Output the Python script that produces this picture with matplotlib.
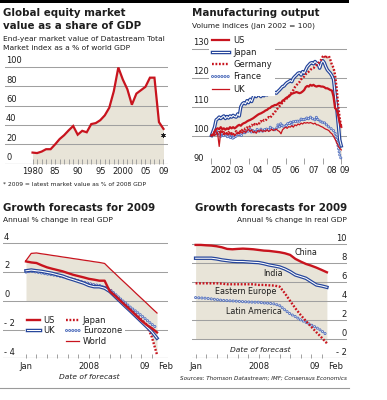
import numpy as np
import pandas as pd
import matplotlib
matplotlib.use('Agg')
import matplotlib.pyplot as plt
import matplotlib.patheffects as pe
from matplotlib.lines import Line2D
from matplotlib.patches import Rectangle
from matplotlib.transforms import blended_transform_factory as btf

plt.rcParams['font.family'] = ['Liberation Sans Narrow', 'DejaVu Sans']
plt.rcParams['lines.scale_dashes'] = False

# ---------------- data ----------------
# Panel 1: global equity market value as % of world GDP
eq_years = list(range(1980, 2010))
eq_values = [11.5, 11, 12.5, 15, 15, 20, 25.5, 29.5, 34.5, 39,
             30, 34, 32.5, 41, 42, 45, 50, 58, 75, 99.5,
             87, 77, 61, 72.5, 76, 79.5, 89, 89, 43, 36]
eq_star_year = 2009
eq_star_value = 29.5
eq_yticks = [0, 20, 40, 60, 80, 100]
eq_xticks = [1980, 1985, 1990, 1995, 2000, 2005, 2009]
eq_xlabels = ['1980', '85', '90', '95', '2000', '05', '09']

# Panel 2: manufacturing output, monthly Jan 2002 - Jan 2009 (Jan 2002 = 100)
mfg_dates = pd.date_range('2002-01-01', periods=85, freq='MS')
mfg_us = [100, 100.2, 101.4, 102.2, 102.5, 102.2, 102.9, 102.2, 102.5, 102.0, 102.5, 102.2,
          102.9, 102.5, 102.9, 102.5, 102.9, 103.4, 103.7, 103.4, 104.0, 104.3, 104.5, 104.9,
          105.2, 105.4, 105.7, 106.0, 106.4, 106.8, 107.2, 107.5, 107.7, 108.0, 108.3, 108.7,
          108.9, 109.4, 109.6, 110.1, 110.3, 110.6, 110.6, 111.0, 111.4, 111.2, 112.1, 112.4,
          112.9, 113.3, 113.5, 114.1, 114.5, 114.7, 114.9, 115.1, 114.9, 114.7, 114.9, 115.3,
          115.8, 116.8, 117.2, 117.0, 117.6, 117.3, 117.6, 117.2, 117.0, 117.2, 117.2, 117.0,
          117.0, 116.8, 116.4, 116.4, 116.1, 115.8, 115.6, 113.5, 109.5, 109.0, 107.0, 104.5, 103.0]
mfg_japan = [100, 101.4, 102.9, 105.4, 105.8, 106.4, 105.9, 106.4, 106.8, 105.9, 106.6, 106.1,
             106.8, 106.4, 107.0, 106.6, 106.4, 107.5, 106.8, 110.0, 111.0, 111.4, 111.0, 112.1,
             111.4, 112.6, 111.8, 113.3, 114.1, 113.5, 114.9, 114.1, 113.5, 114.5, 113.8, 114.7,
             114.1, 114.9, 114.5, 115.3, 114.7, 115.0, 114.7, 115.3, 115.8, 116.4, 117.0, 117.2,
             117.9, 118.4, 118.7, 119.1, 118.7, 119.9, 120.5, 121.0, 121.6, 121.8, 121.0, 122.2,
             121.6, 122.8, 123.9, 124.5, 125.1, 125.3, 124.9, 125.7, 125.1, 124.9, 123.4, 125.1,
             126.0, 125.3, 123.9, 122.8, 122.2, 121.6, 120.7, 119.5, 114.7, 110.0, 104.3, 98.5, 96.4]
mfg_germany = [100, 100.5, 100.2, 101.0, 100.6, 101.2, 100.8, 101.4, 100.5, 101.0, 100.6, 101.2,
               100.5, 100.8, 100.2, 100.9, 101.5, 100.8, 101.7, 101.2, 102.0, 102.5, 102.2, 102.8,
               102.5, 103.2, 103.7, 103.2, 104.0, 103.6, 104.5, 104.2, 105.0, 104.6, 105.4, 105.2,
               105.9, 106.4, 106.1, 107.0, 107.5, 108.0, 109.0, 109.5, 110.2, 110.8, 111.5, 112.0,
               112.5, 113.0, 113.6, 114.3, 115.0, 115.8, 116.8, 117.5, 118.0, 118.6, 119.5, 120.0,
               120.5, 121.3, 121.8, 122.2, 122.8, 123.2, 123.4, 124.0, 124.5, 125.0, 125.6, 126.3,
               127.4, 127.8, 126.8, 127.4, 127.6, 126.2, 124.5, 123.5, 121.0, 116.5, 110.5, 106.0, 103.0]
mfg_france = [100, 100.2, 100.8, 102.0, 100.2, 101.4, 99.7, 100.8, 99.7, 100.8, 99.4, 100.2,
              99.1, 100.2, 98.7, 99.9, 99.7, 100.2, 100.8, 99.7, 100.6, 101.4, 100.8, 102.0,
              101.4, 102.2, 101.0, 102.0, 100.8, 102.0, 102.2, 101.4, 102.2, 101.4, 102.2, 101.7,
              102.5, 102.0, 102.9, 102.2, 102.5, 102.0, 102.2, 103.7, 102.9, 104.3, 102.9, 103.7,
              102.9, 104.3, 103.7, 104.9, 103.7, 104.9, 105.2, 104.5, 105.4, 104.9, 105.7, 105.2,
              106.0, 105.4, 106.4, 105.7, 106.4, 105.7, 106.0, 105.4, 106.4, 105.4, 104.9, 105.2,
              104.3, 104.5, 103.7, 103.7, 102.9, 102.5, 102.2, 101.7, 100.8, 98.5, 96.2, 93.3, 91.8]
mfg_uk = [100, 101.0, 102.0, 101.4, 100.6, 96.2, 101.7, 101.0, 101.4, 100.6, 101.0, 100.2,
          100.8, 100.2, 100.6, 99.9, 100.6, 101.0, 100.6, 101.4, 100.8, 101.7, 101.0, 101.7,
          102.2, 101.4, 102.0, 101.0, 101.4, 100.8, 101.7, 101.4, 102.0, 101.4, 101.7, 101.4,
          102.0, 101.4, 101.7, 102.2, 101.7, 102.0, 102.2, 101.7, 101.4, 100.6, 102.0, 102.5,
          102.9, 102.5, 103.1, 102.9, 103.4, 102.9, 103.7, 103.4, 104.0, 103.7, 104.3, 104.0,
          104.5, 104.3, 104.5, 104.3, 104.5, 104.3, 104.0, 104.3, 103.7, 103.7, 103.4, 103.1,
          102.9, 102.5, 102.2, 102.0, 101.7, 101.0, 100.6, 99.7, 98.7, 97.6, 96.4, 95.6, 95.0]
mfg_yticks = [90, 100, 110, 120, 130]
mfg_years = list(range(2002, 2010))
mfg_ylabels = ['2002', '03', '04', '05', '06', '07', '08', '09']

# Panels 3 & 4: 2009 growth forecasts by month of forecast, Jan 2007 - Feb 2009
fc_dates = pd.date_range('2007-01-01', periods=26, freq='MS')
fc_us = [2.74, 2.67, 2.63, 2.47, 2.33, 2.23, 2.14, 2.05, 1.93, 1.81, 1.72, 1.63, 1.53,
         1.47, 1.4, 1.4, 0.65, 0.35, 0.0, -0.33, -0.67, -1.02, -1.37, -1.67, -1.9, -2.2]
fc_uk = [2.09, 2.14, 2.09, 2.05, 1.98, 1.91, 1.81, 1.72, 1.58, 1.47, 1.35, 1.23, 1.07,
         0.98, 0.98, 0.88, 0.65, 0.3, -0.05, -0.4, -0.74, -1.09, -1.44, -1.79, -2.14, -2.6]
fc_eurozone = [2.0, 2.05, 2.0, 1.93, 1.86, 1.81, 1.74, 1.67, 1.58, 1.49, 1.4, 1.3, 1.21,
               1.12, 1.07, 0.93, 0.77, 0.47, 0.14, -0.16, -0.47, -0.74, -1.02, -1.33, -1.63, -1.9]
fc_japan = [2.05, 2.1, 2.05, 2.0, 1.95, 1.9, 1.8, 1.7, 1.6, 1.5, 1.4, 1.3, 1.2,
            1.1, 1.0, 0.95, 0.8, 0.45, 0.1, -0.25, -0.6, -0.95, -1.3, -1.65, -2.5, -3.75]
fc_world = [2.8, 3.3, 3.33, 3.27, 3.22, 3.16, 3.11, 3.05, 3.0, 2.94, 2.89, 2.83, 2.78,
            2.72, 2.67, 2.6, 2.24, 1.9, 1.55, 1.21, 0.87, 0.52, 0.18, -0.16, -0.51, -0.85]
fc_china = [9.93, 9.93, 9.89, 9.86, 9.79, 9.68, 9.51, 9.47, 9.51, 9.54, 9.51, 9.47, 9.4,
            9.33, 9.3, 9.23, 9.16, 9.05, 8.88, 8.46, 8.18, 7.93, 7.75, 7.54, 7.3, 7.05]
fc_india = [8.53, 8.53, 8.53, 8.53, 8.46, 8.35, 8.28, 8.21, 8.18, 8.18, 8.14, 8.1, 8.07,
            7.96, 7.82, 7.72, 7.61, 7.4, 7.12, 6.77, 6.6, 6.42, 6.07, 5.72, 5.61, 5.47]
fc_eeurope = [5.89, 5.89, 5.89, 5.89, 5.89, 5.86, 5.79, 5.79, 5.79, 5.79, 5.79, 5.79, 5.72,
              5.72, 5.68, 5.65, 5.54, 4.84, 4.04, 3.26, 2.56, 1.93, 1.33, 0.74, 0.18, -0.42]
fc_latam = [4.39, 4.35, 4.32, 4.25, 4.18, 4.1, 4.07, 4.04, 4.0, 3.96, 3.93, 3.9, 3.9,
            3.82, 3.79, 3.72, 3.54, 3.09, 2.67, 2.39, 2.04, 1.79, 1.51, 1.23, 0.88, 0.46]
fc3_yticks = [-4, -2, 0, 2, 4]
fc4_yticks = [-2, 0, 2, 4, 6, 8, 10]

# ---------------- style ----------------
RED = '#c8141e'
BLUE = '#25459b'
LBLUE = '#5673bf'
FILL = '#e8e4d8'
GRID = '#a0a0a0'
BASE = '#707070'
TXT = '#1e1e1e'
W, H = 387, 400
TITLE = 7.4
SUB = 5.4
TICK = 6.0
LEG = 6.0

fig = plt.figure(figsize=(W / 100, H / 100), dpi=100)


def add_ax(l, r, t, b):
    ax = fig.add_axes([l / W, 1 - b / H, (r - l) / W, (b - t) / H])
    for s in ax.spines.values():
        s.set_visible(False)
    ax.set_yticks([])
    ax.patch.set_alpha(0)
    return ax


def ftext(x, y, s, **kw):
    kw.setdefault('color', TXT)
    fig.text(x / W, 1 - y / H, s, **kw)


def ylabels(ax, vals, ha='left', size=TICK):
    tr = btf(ax.transAxes, ax.transData)
    xa = 0 if ha == 'left' else 1
    dx = 0.8 if ha == 'left' else 0
    for v in vals:
        lbl = str(v) if v >= 0 else '- ' + str(-v)
        ax.annotate(lbl, xy=(xa, v), xycoords=tr, xytext=(dx, 1.2),
                    textcoords='offset points', ha=ha, va='bottom',
                    fontsize=size, color=TXT, annotation_clip=False)


def grid(ax, vals, base=None):
    for v in vals:
        ax.axhline(v, color=GRID, lw=0.75, zorder=1)
    if base is not None:
        ax.axhline(base, color=BASE, lw=0.8, zorder=1)


def double_line(ax, x, y, z=4, lw_out=2.5, lw_in=0.75):
    return ax.plot(x, y, color='white', lw=lw_in, solid_joinstyle='round', zorder=z,
                   path_effects=[pe.Stroke(linewidth=lw_out, foreground=BLUE), pe.Normal()])[0]


def ring_line(ax, x, y, z=3):
    return ax.plot(x, y, color='white', lw=0.85, dashes=(0.01, 2.25), dash_capstyle='round',
                   zorder=z, path_effects=[pe.Stroke(linewidth=2.2, foreground=LBLUE), pe.Normal()])[0]


def dotted_red(ax, x, y, z=5):
    return ax.plot(x, y, color=RED, lw=1.7, dashes=(1.3, 1.2), dash_capstyle='butt', zorder=z)[0]


# ---------------- Panel 1 ----------------
ax1 = add_ax(5, 168, 59.3, 163.7)
ax1.set_xlim(1973.9, 2010.0)
ax1.set_ylim(0, 108)
grid(ax1, [v for v in eq_yticks if v > 0], base=0)
ylabels(ax1, eq_yticks)
ax1.fill_between(eq_years, eq_values, 0, color=FILL, lw=0, zorder=0.5)
ax1.plot(eq_years, eq_values, color=RED, lw=1.6, zorder=4, solid_joinstyle='miter')
ax1.plot([eq_star_year], [eq_star_value], marker=(6, 2, 0), ms=3.2, mew=0.6, color=TXT, zorder=5)
ax1.set_xticks(eq_xticks)
ax1.set_xticklabels(eq_xlabels)
ax1.set_xticks(eq_years, minor=True)
ax1.tick_params(axis='x', which='both', direction='in', length=3.6, width=0.7, color=GRID,
                labelsize=TICK, labelcolor=TXT, pad=2.5)

ftext(3, 13, 'Global equity market', fontsize=TITLE, weight='bold', va='center')
ftext(3, 26, 'value as a share of GDP', fontsize=TITLE, weight='bold', va='center')
ftext(3, 38.5, 'End-year market value of Datastream Total', fontsize=SUB, va='center')
ftext(3, 48.5, 'Market index as a % of world GDP', fontsize=SUB, va='center')
ftext(3, 185, '* 2009 = latest market value as % of 2008 GDP', fontsize=4.3, va='center')

# ---------------- Panel 2 ----------------
t_mfg = mfg_dates.year + (mfg_dates.month - 1) / 12.0
ax2 = add_ax(192, 347, 40.5, 164.3)
ax2.set_xlim(2000.95, 2009.31)
ax2.set_ylim(90, 133)
grid(ax2, [v for v in mfg_yticks if v > 90])
ylabels(ax2, mfg_yticks)
series2 = np.array([mfg_us, mfg_japan, mfg_germany, mfg_france, mfg_uk])
ax2.fill_between(t_mfg, series2.max(axis=0), np.minimum(series2.min(axis=0), 100),
                 color=FILL, lw=0, zorder=0.5)
l_fr = ring_line(ax2, t_mfg, mfg_france, z=2)
l_uk = ax2.plot(t_mfg, mfg_uk, color=RED, lw=0.9, zorder=3)[0]
l_jp = double_line(ax2, t_mfg, mfg_japan, z=4)
l_us = ax2.plot(t_mfg, mfg_us, color=RED, lw=1.6, zorder=5)[0]
l_de = dotted_red(ax2, t_mfg, mfg_germany, z=6)
ax2.set_xticks(mfg_years)
ax2.set_xticklabels([])
ax2.set_xticks([y + 0.5 for y in mfg_years[:-1]] + [mfg_years[-1] + 0.2], minor=True)
ax2.set_xticklabels(mfg_ylabels, minor=True)
ax2.tick_params(axis='x', which='major', direction='in', length=4.5, width=0.7, color=GRID)
ax2.tick_params(axis='x', which='minor', length=0, labelsize=TICK, labelcolor=TXT, pad=1.5)
leg2 = ax2.legend([l_us, l_jp, l_de, l_fr, l_uk], ['US', 'Japan', 'Germany', 'France', 'UK'],
                  loc='upper left', bbox_to_anchor=((209 - 192) / 155, (164.3 - 33) / 123.8),
                  frameon=True, facecolor='white', edgecolor='none', framealpha=1, fancybox=False,
                  fontsize=LEG, handlelength=2.0, handletextpad=0.6, labelspacing=0.38,
                  borderpad=0.35, borderaxespad=0)
for t in leg2.get_texts():
    t.set_color(TXT)
leg2.set_zorder(10)

ftext(192, 13, 'Manufacturing output', fontsize=TITLE, weight='bold', va='center')
ftext(192, 25.5, 'Volume indices (Jan 2002 = 100)', fontsize=SUB, va='center')

# ---------------- Panel 3 ----------------
m_fc = np.arange(len(fc_dates))
ax3 = add_ax(3, 168, 234.7, 358.3)
ax3.set_xlim(-4.39, 27.1)
ax3.set_ylim(-4, 4.6)
grid(ax3, [v for v in fc3_yticks if v > -4], base=-4)
ylabels(ax3, fc3_yticks)
low3 = np.minimum.reduce([fc_us, fc_uk, fc_eurozone, fc_japan, fc_world])
ax3.fill_between(m_fc, fc_world, np.minimum(low3, 0), color=FILL, lw=0, zorder=0.5)
l3_world = ax3.plot(m_fc, fc_world, color=RED, lw=0.9, zorder=3)[0]
l3_jp = dotted_red(ax3, m_fc, fc_japan, z=3.5)
l3_ez = ring_line(ax3, m_fc, fc_eurozone, z=4)
l3_uk = double_line(ax3, m_fc, fc_uk, z=4.5)
l3_us = ax3.plot(m_fc, fc_us, color=RED, lw=1.7, zorder=5)[0]
blank = Line2D([], [], color='none')
leg3 = ax3.legend([l3_us, l3_uk, blank, l3_jp, l3_ez, l3_world],
                  ['US', 'UK', '', 'Japan', 'Eurozone', 'World'], ncol=2,
                  loc='upper left', bbox_to_anchor=((24.5 - 3) / 165, (358.3 - 313.5) / 123.6),
                  frameon=True, facecolor='white', edgecolor='none', framealpha=1, fancybox=False,
                  fontsize=LEG, handlelength=1.6, handletextpad=0.4, labelspacing=0.15,
                  columnspacing=1.3, borderpad=0.3, borderaxespad=0)
for t in leg3.get_texts():
    t.set_color(TXT)
leg3.set_zorder(10)


def month_axis(ax):
    ax.set_xticks(m_fc[0:25:2])
    ax.set_xticklabels([])
    ax.tick_params(axis='x', direction='in', length=3.0, width=0.7, color=GRID)
    tr = btf(ax.transData, ax.transAxes)
    for m, s, ha in [(0, 'Jan', 'center'), (12, '2008', 'center'), (24, '09', 'right'),
                     (25, 'Feb', 'left')]:
        ax.annotate(s, xy=(m, 0), xycoords=tr,
                    xytext=(0 if ha == 'center' else (-1 if ha == 'right' else 1), -2.5),
                    textcoords='offset points', ha=ha, va='top', fontsize=TICK, color=TXT,
                    annotation_clip=False)


month_axis(ax3)
ftext(3, 207.5, 'Growth forecasts for 2009', fontsize=TITLE, weight='bold', va='center')
ftext(3, 220, 'Annual % change in real GDP', fontsize=SUB, va='center')
ftext(89, 377, 'Date of forecast', fontsize=5.4, style='italic', va='center', ha='center')

# ---------------- Panel 4 ----------------
ax4 = add_ax(192, 347, 237.6, 358.3)
ax4.set_xlim(-0.69, 28.83)
ax4.set_ylim(-2, 10.7)
grid(ax4, [v for v in fc4_yticks if v > -2], base=-2)
ylabels(ax4, fc4_yticks, ha='right')
low4 = np.minimum.reduce([fc_china, fc_india, fc_eeurope, fc_latam])
ax4.fill_between(m_fc, fc_china, np.minimum(low4, 0), color=FILL, lw=0, zorder=0.5)
ring_line(ax4, m_fc, fc_latam, z=3)
dotted_red(ax4, m_fc, fc_eeurope, z=4)
double_line(ax4, m_fc, fc_india, z=4.5)
ax4.plot(m_fc, fc_china, color=RED, lw=1.7, zorder=5)
for s, m, v in [('China', 21.1, 9.1), ('India', 14.7, 6.95), ('Eastern Europe', 9.6, 5.05),
                ('Latin America', 11.1, 2.9)]:
    ax4.text(m, v, s, fontsize=5.8, color=TXT, ha='center', va='center', zorder=6)
month_axis(ax4)
ftext(347, 207.5, 'Growth forecasts for 2009', fontsize=TITLE, weight='bold', va='center', ha='right')
ftext(347, 220, 'Annual % change in real GDP', fontsize=SUB, va='center', ha='right')
ftext(260, 350, 'Date of forecast', fontsize=5.4, style='italic', va='center', ha='center')
ftext(347, 378.5, 'Sources: Thomson Datastream; IMF; Consensus Economics', fontsize=4.1,
      style='italic', va='center', ha='right')

# frame decorations
fig.add_artist(Rectangle((0, 1 - 3 / H), 349 / W, 3 / H, transform=fig.transFigure,
                         color='black', lw=0))
fig.add_artist(Line2D([0, 349 / W], [1 - 387.7 / H] * 2, transform=fig.transFigure,
                      color='#9a9a9a', lw=0.8))

fig.savefig('out.png', dpi=100)
